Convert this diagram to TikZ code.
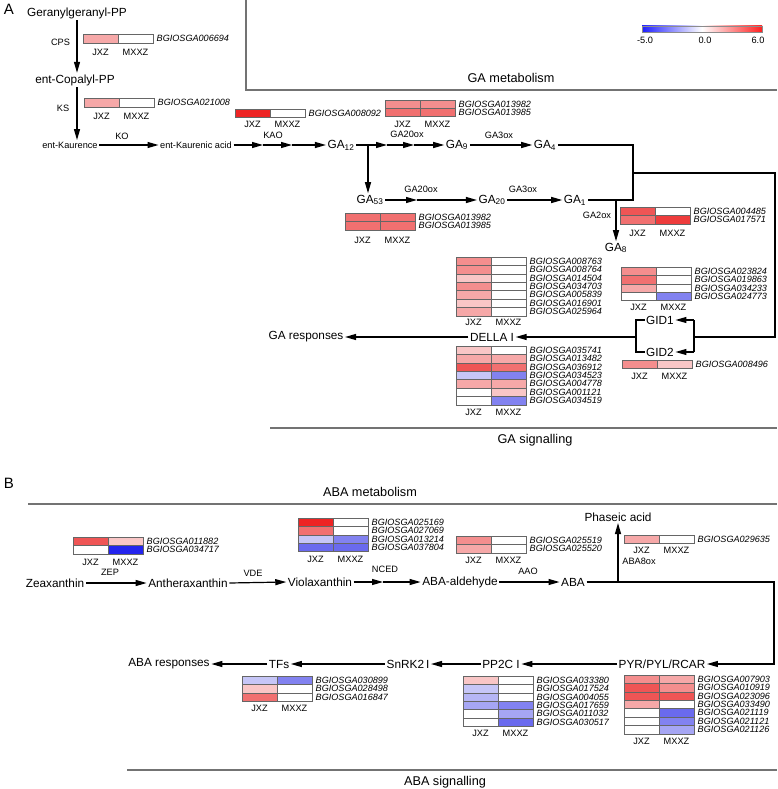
\documentclass[tikz,border=0pt]{standalone}
\usepackage{fontspec}
\setmainfont{Liberation Sans}
\usetikzlibrary{arrows.meta}
\definecolor{rS}{HTML}{EE2424}
\definecolor{rQ}{HTML}{EE3C3C}
\definecolor{r1}{HTML}{EF5555}
\definecolor{r2}{HTML}{F17070}
\definecolor{r3}{HTML}{F48E8E}
\definecolor{r4}{HTML}{F6A8A8}
\definecolor{r5}{HTML}{F9C6C6}
\definecolor{bS}{HTML}{2424EE}
\definecolor{b2}{HTML}{6A6AEE}
\definecolor{b3}{HTML}{8282F0}
\definecolor{b4}{HTML}{A6A6F4}
\definecolor{b45}{HTML}{B6B6F5}
\definecolor{b5}{HTML}{C6C6F7}
\definecolor{cbBlue}{HTML}{2020FF}
\definecolor{cbRed}{HTML}{FF2020}
\newcommand\fmain{\fontsize{11.8}{13}\selectfont}
\newcommand\fsm{\fontsize{9.2}{10}\selectfont}
\newcommand\fgene{\fontsize{9.1}{9.5}\selectfont\itshape}
\newcommand\ftitle{\fontsize{12.7}{14}\selectfont}
\newcommand\fpanel{\fontsize{15}{17}\selectfont}
\newcounter{gnum}
\newcounter{lnum}
\newcommand\hmrow[5]{%
  \pgfmathsetmacro\hmx{#1}%
  \pgfmathsetmacro\hmxb{#1+35}%
  \pgfmathsetmacro\hmxg{#1+73}%
  \pgfmathsetmacro\hmy{#2}%
  \pgfmathsetmacro\hmyc{#2+4.2}%
  \fill[#3] (\hmx,\hmy) rectangle ++(35,8.4);
  \fill[#4] (\hmxb,\hmy) rectangle ++(35,8.4);
  \draw[cellb] (\hmx,\hmy) rectangle ++(35,8.4);
  \draw[cellb] (\hmxb,\hmy) rectangle ++(35,8.4);
  \stepcounter{gnum}%
  \node[gene] (gene\arabic{gnum}) at (\hmxg,\hmyc) {BGIOSGA#5};
}
\newcommand\hm[3]{%
  \foreach [count=\i from 0] \ca/\cb/\gid in {#3} {%
    \pgfmathsetmacro\rowy{#2+\i*8.4}%
    \hmrow{#1}{\rowy}{\ca}{\cb}{\gid}
  }%
}
\newcommand\hmlab[2]{%
  \stepcounter{lnum}%
  \pgfmathsetmacro\lxa{#1+17.5}%
  \pgfmathsetmacro\lxb{#1+52.5}%
  \node[lab] (jx\arabic{lnum}) at (\lxa,#2) {JXZ};
  \node[lab] (mx\arabic{lnum}) at (\lxb,#2) {MXXZ};
}
\begin{document}
\begin{tikzpicture}[x=1pt,y=-1pt,
  every node/.style={inner sep=1.5pt},
  big/.style={font=\fmain},
  sm/.style={font=\fsm},
  gene/.style={font=\fgene, anchor=west, inner sep=0.5pt},
  lab/.style={font=\fsm},
  ttl/.style={font=\ftitle},
  arr/.style={line width=1.2pt, -{Triangle[length=11pt,width=6pt]}},
  ln/.style={line width=1.2pt},
  sect/.style={line width=1.1pt, draw=black!55},
  cellb/.style={draw=black!60, line width=0.6pt}]
\useasboundingbox (0,0) rectangle (777,789);

% ---------------- Panel A ----------------
\node[font=\fpanel] (pA) at (9,9) {A};
\draw[sect] (246,0) -- (246,90) -- (777,90);
\node[ttl] (tGAm) at (511,78) {GA metabolism};

% colour bar
\shade[left color=cbBlue, right color=white] (642,26) rectangle (702,32);
\shade[left color=white, right color=cbRed] (702,26) rectangle (762,32);
\draw[draw=black!45, line width=0.8pt] (642,26) rectangle (762,32);
\node[sm] (cb1) at (645,40) {-5.0};
\node[sm] (cb2) at (705,40) {0.0};
\node[sm] (cb3) at (758,40) {6.0};

\node[big] (gg) at (77,13) {Geranylgeranyl-PP};
\node[big] (cop) at (75,80) {ent-Copalyl-PP};
\node[sm] (kau) at (70,145) {ent-Kaurence};
\node[sm] (eka) at (196,145) {ent-Kaurenic acid};
\node[big] (ga12) at (341,145) {GA\textsubscript{12}};
\node[big] (ga9) at (457,145) {GA\textsubscript{9}};
\node[big] (ga4) at (545,145) {GA\textsubscript{4}};
\node[big] (ga53) at (370,200) {GA\textsubscript{53}};
\node[big] (ga20) at (492,200) {GA\textsubscript{20}};
\node[big] (ga1) at (575,200) {GA\textsubscript{1}};
\node[big] (ga8) at (616,248) {GA\textsubscript{8}};

\node[sm] (eCPS) at (60.5,42) {CPS};
\node[sm] (eKS) at (63,108) {KS};
\node[sm] (eKO) at (122,136) {KO};
\node[sm] (eKAO) at (273,135) {KAO};
\node[sm] (eGA20a) at (407,134) {GA20ox};
\node[sm] (eGA3a) at (499,135) {GA3ox};
\node[sm] (eGA20b) at (421,189) {GA20ox};
\node[sm] (eGA3b) at (523,189) {GA3ox};
\node[sm] (eGA2) at (597,215) {GA2ox};

\draw[arr] (gg.south) -- (gg.south |- cop.north);
\draw[arr] (gg.south |- cop.south) -- (gg.south |- kau.north);
\draw[arr] (kau.east) -- (eka.west);
\coordinate (k1) at (263,145);
\coordinate (k2) at (292,145);
\draw[arr] (eka.east) -- (k1);
\draw[arr] (k1) -- (k2);
\draw[arr] (k2) -- (ga12.west);
\coordinate (br) at (368,145);
\coordinate (c1) at (387,145);
\coordinate (c2) at (414,145);
\draw[ln] (ga12.east) -- (br);
\draw[arr] (br) -- (c1);
\draw[arr] (c1) -- (c2);
\draw[arr] (c2) -- (ga9.west);
\draw[arr] (br) -- (br |- ga53.north);
\draw[arr] (ga9.east) -- (ga4.west);
\coordinate (c3) at (417,200);
\draw[arr] (ga53.east) -- (c3);
\draw[arr] (c3) -- (ga20.west);
\draw[arr] (ga20.east) -- (ga1.west);
\coordinate (jx) at (633,173);
\draw[ln] (ga4.east) -| (jx) |- (ga1.east);
\draw[arr] (ga8.north |- ga1.east) -- (ga8.north);

% heatmaps, metabolism
\hm{83}{34.5}{r4/white/006694}
\hmlab{83}{52}
\hm{84}{98.5}{r4/white/021008}
\hmlab{84}{116}
\hm{235}{109}{rS/white/008092}
\hmlab{235}{124}
\hm{385}{100}{r3/r3/013982, r2/r2/013985}
\hmlab{385}{124}
\hm{345}{213}{r2/r2/013982, r2/r2/013985}
\hmlab{345}{240}
\hm{620}{207}{r1/white/004485, r2/rQ/017571}
\hmlab{620}{233}

% signalling
\node[big] (gid1) at (660,320) {GID1};
\node[big] (gid2) at (660,352) {GID2};
\node[big] (della) at (492,337) {DELLA I};
\node[big] (garesp) at (306,337) {GA responses};
\coordinate (rc) at (775,173);
\coordinate (gr) at (694,337);
\coordinate (gl) at (636,337);
\draw[ln] (jx) -- (rc) |- (gr);
\draw[ln] (gr |- gid1) -- (gr |- gid2);
\draw[arr] (gr |- gid1) -- (gid1.east);
\draw[arr] (gr |- gid2) -- (gid2.east);
\draw[ln] (gid1.west) -| (gl) |- (gid2.west);
\draw[arr] (gl) -- (della.east);
\draw[arr] (della.west) -- (garesp.east);

\hm{456}{257}{r3/white/008763, r3/white/008764, r5/white/014504, r3/white/034703, r4/white/005839, r5/white/016901, r4/white/025964}
\hmlab{456}{322}
\hm{621}{267}{r3/white/023824, r2/white/019863, r4/white/034233, white/b3/024773}
\hmlab{621}{307}
\hm{622}{360}{r3/r5/008496}
\hmlab{622}{376}
\hm{456}{346}{r5/white/035741, r4/r4/013482, r1/r2/036912, b5/b3/034523, r4/r4/004778, white/r5/001121, white/b3/034519}
\hmlab{456}{412}

\draw[sect] (270,428) -- (777,428);
\node[ttl] (tGAs) at (535,440) {GA signalling};

% ---------------- Panel B ----------------
\node[font=\fpanel] (pB) at (9,483) {B};
\node[ttl] (tABAm) at (370,492) {ABA metabolism};
\draw[sect] (28,504) -- (777,504);

\node[big] (zea) at (55,583) {Zeaxanthin};
\node[big] (anth) at (188,583) {Antheraxanthin};
\node[big] (vio) at (320,582) {Violaxanthin};
\node[big] (abaald) at (460,582) {ABA-aldehyde};
\node[big] (aba) at (573,582) {ABA};
\node[big] (phas) at (618,517) {Phaseic acid};
\node[sm] (eZEP) at (110,572) {ZEP};
\node[sm] (eVDE) at (253,573) {VDE};
\node[sm] (eNCED) at (385,569) {NCED};
\node[sm] (eAAO) at (528,571) {AAO};
\node[sm] (eABA8) at (639,561) {ABA8ox};

\draw[arr] (zea.east) -- (anth.west);
\draw[arr] (anth.east) -- (vio.west);
\coordinate (n1) at (383,582);
\draw[arr] (vio.east) -- (n1);
\draw[arr] (n1) -- (abaald.west);
\draw[arr] (abaald.east) -- (aba.west);
\draw[arr] (phas.south |- aba.east) -- (phas.south);

\hm{73}{537}{r1/r5/011882, white/bS/034717}
\hmlab{73}{562}
\hm{298}{518}{rS/white/025169, r2/white/027069, b5/b3/013214, b2/b2/037804}
\hmlab{298}{559}
\hm{456}{536}{r3/white/025519, r4/white/025520}
\hmlab{456}{560}
\hm{624}{535}{r4/white/029635}
\hmlab{624}{550}

\node[big] (pyr) at (662,664) {PYR/PYL/RCAR};
\node[big] (pp2c) at (501,664) {PP2C I};
\node[big] (snrk) at (408,664) {SnRK2\,I};
\node[big] (tfs) at (279,664) {TFs};
\node[big] (abaresp) at (169,664) {ABA responses};
\coordinate (ar1) at (774,582);
\draw[arr] (aba.east) -- (ar1) |- (pyr.east);
\draw[arr] (pyr.west) -- (pp2c.east);
\draw[arr] (pp2c.west) -- (snrk.east);
\draw[arr] (snrk.west) -- (tfs.east);
\draw[arr] (tfs.west) -- (abaresp.east);

\hm{242}{676}{b5/b3/030899, r5/white/028498, r2/white/016847}
\hmlab{242}{708}
\hm{463}{676}{r5/white/033380, b5/white/017524, b45/white/004055, b4/b3/017659, white/b4/011032, white/b2/030517}
\hmlab{463}{733}
\hm{624}{675}{r3/r4/007903, r1/r3/010919, r1/r1/023096, r4/white/033490, white/b2/021119, white/b3/021121, white/b4/021126}
\hmlab{624}{741}

\draw[sect] (127,770) -- (777,770);
\node[ttl] (tABAs) at (445,782) {ABA signalling};
\end{tikzpicture}
\end{document}
